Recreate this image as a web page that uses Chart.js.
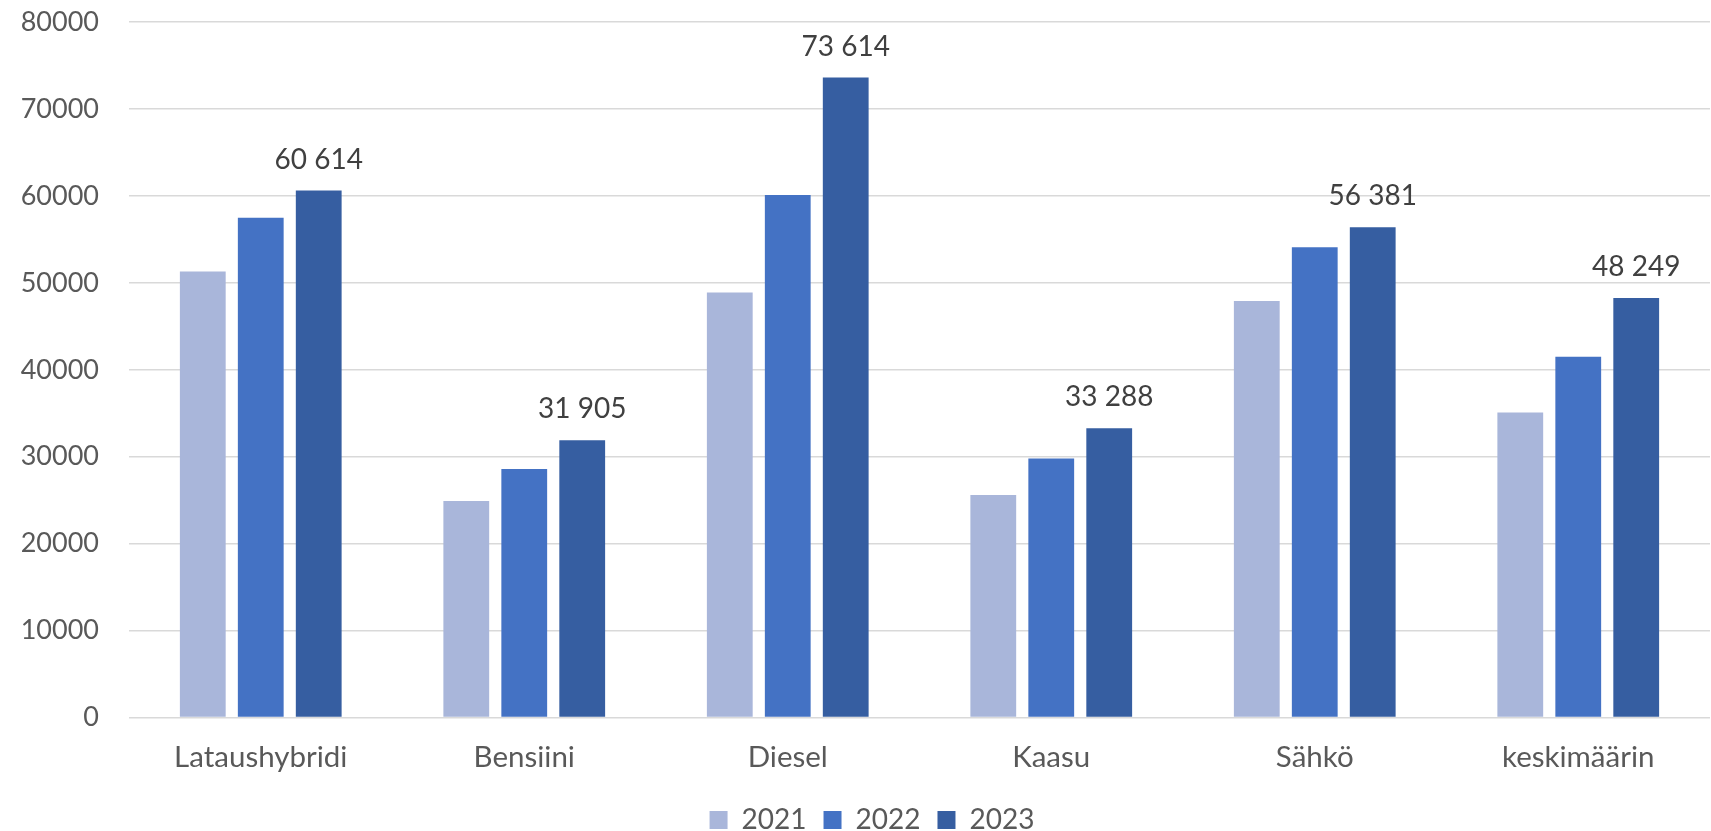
<!DOCTYPE html>
<html>
<head>
<meta charset="utf-8">
<script src="https://cdn.jsdelivr.net/npm/chart.js@4/dist/chart.umd.min.js"></script>
<style>
html,body{margin:0;padding:0;background:#fff;}
#wrap{width:1711px;height:831px;position:relative;}
</style>
</head>
<body>
<div id="wrap"><canvas id="c"></canvas></div>
<script>
const categories = ["Lataushybridi", "Bensiini", "Diesel", "Kaasu", "Sähkö", "keskimäärin"];
const seriesNames = ["2021", "2022", "2023"];
const values2021 = [51300, 24900, 48900, 25600, 47900, 35100];
const values2022 = [57500, 28600, 60100, 29800, 54100, 41500];
const values2023 = [60614, 31905, 73614, 33288, 56381, 48249];
const colors = ["#A9B6DA", "#4472C4", "#365EA1"];
const yMax = 80000;
const yStep = 10000;

const FONT = "Lato, 'Open Sans', sans-serif";

function fmt(v){
  return String(v).replace(/\B(?=(\d{3})+(?!\d))/g, " ");
}

const labelPlugin = {
  id: 'topLabels',
  afterDatasetsDraw(chart){
    const ctx = chart.ctx;
    const meta = chart.getDatasetMeta(2);
    const data = chart.data.datasets[2].data;
    ctx.save();
    ctx.font = "28px " + FONT;
    ctx.fillStyle = "#404040";
    ctx.textAlign = "center";
    ctx.textBaseline = "bottom";
    meta.data.forEach((el, i) => {
      ctx.fillText(fmt(data[i]), el.x, el.y - 17);
    });
    ctx.restore();
  }
};

const legendShift = {
  id: 'legendShift',
  afterLayout(chart){
    if (chart.legend) { chart.legend.left += 17; chart.legend.right += 17; }
  }
};

new Chart(document.getElementById('c'), {
  type: 'bar',
  data: {
    labels: categories,
    datasets: [
      {label: seriesNames[0], data: values2021, backgroundColor: colors[0]},
      {label: seriesNames[1], data: values2022, backgroundColor: colors[1]},
      {label: seriesNames[2], data: values2023, backgroundColor: colors[2]}
    ]
  },
  options: {
    responsive: true,
    maintainAspectRatio: false,
    animation: false,
    categoryPercentage: 0.66,
    barPercentage: 0.79,
    layout: {padding: {top: 22, right: 1, left: 0, bottom: -13}},
    plugins: {
      legend: {
        position: 'bottom',
        labels: {
          boxWidth: 18, boxHeight: 18, padding: 17,
          color: '#595959',
          font: {family: FONT, size: 28}
        }
      },
      tooltip: {enabled: false}
    },
    scales: {
      x: {
        grid: {display: false, drawTicks: false},
        border: {display: false},
        ticks: {color: '#595959', font: {family: FONT, size: 29.5}, padding: 22.5, maxRotation: 0},
        afterFit(s){ s.height -= 9; }
      },
      y: {
        min: 0, max: yMax,
        grid: {color: '#D9D9D9', lineWidth: 1.5, drawTicks: false},
        border: {display: false},
        ticks: {stepSize: yStep, color: '#595959', font: {family: FONT, size: 27}, padding: 30,
          callback: v => String(v)},
        afterFit(s){ s.width = 129; s.paddingTop = 0; s.paddingBottom = 0; }
      }
    }
  },
  plugins: [labelPlugin, legendShift]
});
</script>
</body>
</html>
